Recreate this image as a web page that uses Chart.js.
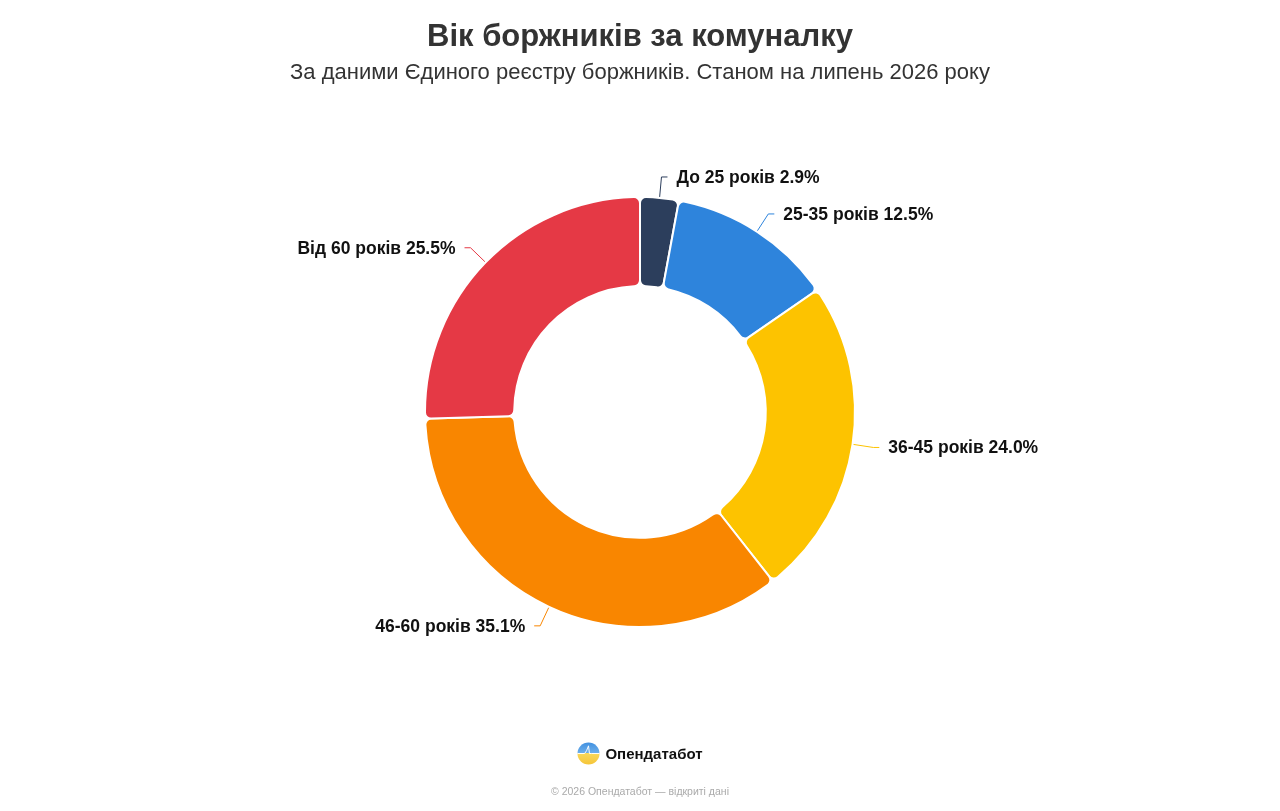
<!DOCTYPE html>
<html lang="uk">
<head>
<meta charset="utf-8">
<title>Вік боржників за комуналку</title>
<script src="https://cdn.jsdelivr.net/npm/chart.js@4.4.1/dist/chart.umd.min.js"></script>
<style>
    html, body { margin: 0; padding: 0; background: #fff; }
    body { width: 1280px; height: 811px; position: relative; overflow: hidden; font-family: "Liberation Sans", Arial, sans-serif; }
    .title { position: absolute; top: 18px; left: 0; width: 100%; text-align: center; font-size: 31px; font-weight: bold; color: #333; }
    .subtitle { position: absolute; top: 59px; left: 0; width: 100%; text-align: center; font-size: 22px; color: #333; }
    .chart-box { position: absolute; top: 0; left: 0; width: 1280px; height: 811px; }
    .brand { position: absolute; top: 742px; left: 0; width: 100%; display: flex; justify-content: center; align-items: center; gap: 5px; }
    .brand span { font-size: 15px; font-weight: bold; color: #111; }
    .copy { position: absolute; top: 785px; left: 0; width: 100%; text-align: center; font-size: 10.5px; color: #aaa; }
</style>
</head>
<body>
<div class="chart-box"><canvas id="ageChart" width="1280" height="811"></canvas></div>
<div class="title">Вік боржників за комуналку</div>
<div class="subtitle">За даними Єдиного реєстру боржників. Станом на липень 2026 року</div>
<div class="brand">
    <svg width="23" height="23" viewBox="0 0 24 24">
        <defs>
            <clipPath id="c"><circle cx="12" cy="12" r="11.5"/></clipPath>
            <linearGradient id="g" x1="0" y1="0" x2="0" y2="1">
                <stop offset="0" stop-color="#3f8fe0"/>
                <stop offset="0.5" stop-color="#6fb0ea"/>
                <stop offset="0.5" stop-color="#f9d85a"/>
                <stop offset="1" stop-color="#f5c437"/>
            </linearGradient>
        </defs>
        <g clip-path="url(#c)">
            <rect x="0" y="0" width="24" height="24" fill="url(#g)"/>
            <polyline points="0,12 8,12 10,9 12,4 13,12 15,12 24,12" fill="none" stroke="#fff" stroke-width="1"/>
        </g>
    </svg>
    <span>Опендатабот</span>
</div>
<div class="copy">© 2026 Опендатабот — відкриті дані</div>

<script>
// Дані
const ageLabels = ['До 25 років', '25-35 років', '36-45 років', '46-60 років', 'Від 60 років'];
const ageShares = [2.9, 12.5, 24.0, 35.1, 25.5];
const ageColors = ['#2c3e5c', '#2e84dc', '#fdc300', '#f98600', '#e53945'];

// Підписи з виносками
const calloutLabels = {
    id: 'calloutLabels',
    afterDatasetsDraw(chart) {
        const ctx = chart.ctx;
        const meta = chart.getDatasetMeta(0);
        ctx.save();
        meta.data.forEach((arc, i) => {
            const mid = (arc.startAngle + arc.endAngle) / 2;
            const cos = Math.cos(mid), sin = Math.sin(mid);
            const r0 = arc.outerRadius + 1;
            const r1 = arc.outerRadius + 21;
            const x0 = arc.x + cos * r0, y0 = arc.y + sin * r0;
            const x1 = arc.x + cos * r1, y1 = arc.y + sin * r1;
            const dir = cos >= 0 ? 1 : -1;
            const x2 = x1 + dir * 6;

            ctx.strokeStyle = ageColors[i];
            ctx.lineWidth = 1;
            ctx.beginPath();
            ctx.moveTo(x0, y0);
            ctx.lineTo(x1, y1);
            ctx.lineTo(x2, y1);
            ctx.stroke();

            ctx.fillStyle = '#111';
            ctx.font = 'bold 17.5px "Liberation Sans", Arial, sans-serif';
            ctx.textBaseline = 'middle';
            ctx.textAlign = dir > 0 ? 'left' : 'right';
            const text = ageLabels[i] + ' ' + ageShares[i].toFixed(1) + '%';
            ctx.fillText(text, x2 + dir * 9, y1 + 1);
        });
        ctx.restore();
    }
};

const ctx = document.getElementById('ageChart').getContext('2d');
new Chart(ctx, {
    type: 'doughnut',
    data: {
        labels: ageLabels,
        datasets: [{
            data: ageShares,
            backgroundColor: ageColors,
            borderColor: '#fff',
            borderWidth: 2,
            borderRadius: 6,
            hoverOffset: 0
        }]
    },
    options: {
        responsive: false,
        animation: false,
        cutout: '58.5%',
        layout: { padding: { top: 196, bottom: 183, left: 0, right: 0 } },
        plugins: {
            legend: { display: false },
            tooltip: { enabled: false }
        }
    },
    plugins: [calloutLabels]
});
</script>
</body>
</html>
